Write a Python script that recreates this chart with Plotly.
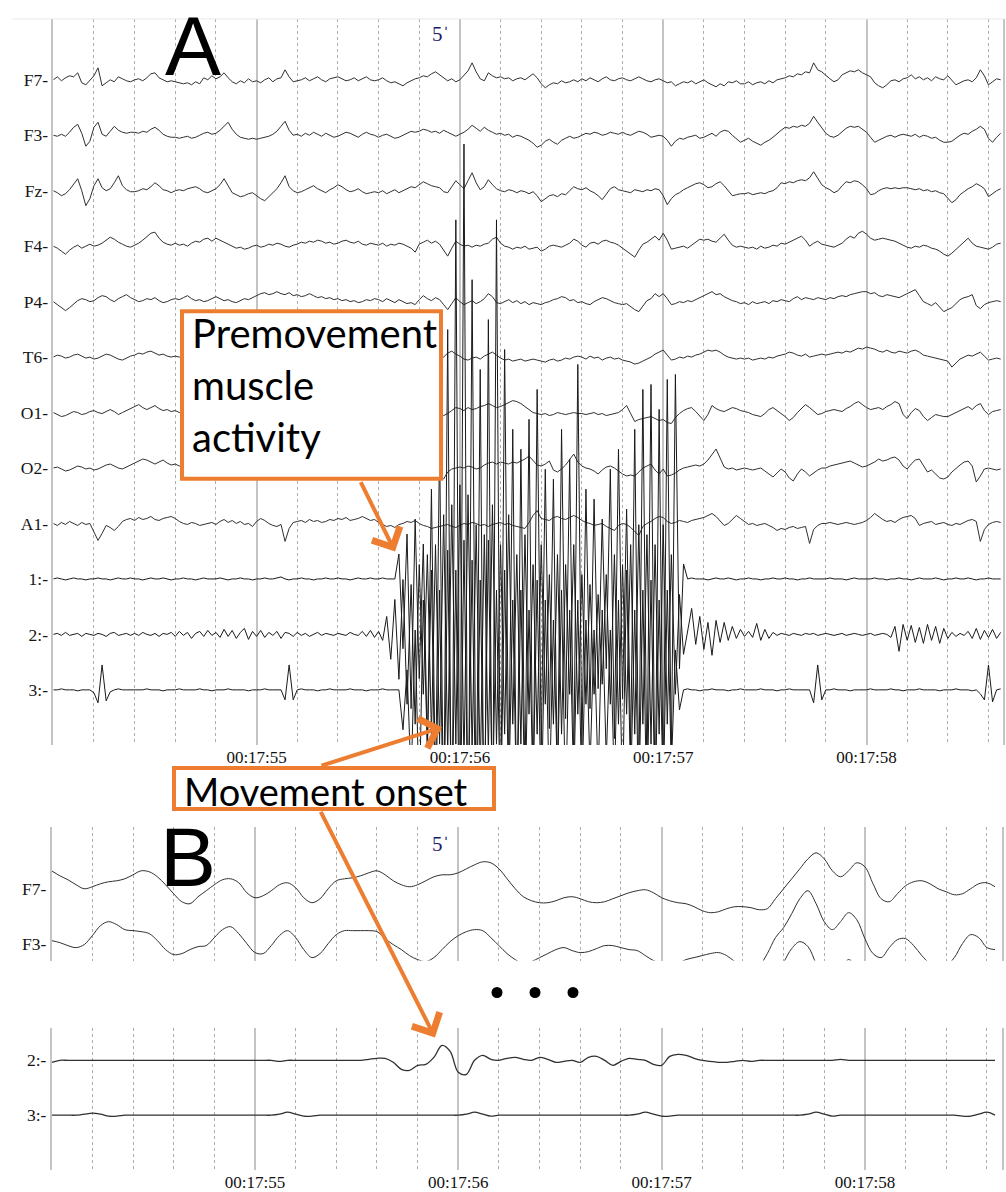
import numpy as np
import plotly.graph_objects as go

W, H = 1006, 1192

# ---------------- DATA ----------------
# time origin 00:17:54 (seconds of the hour); panel A sampled every 0.02 s, panel B every 0.04 s
t_start = 17 * 60 + 54
dt_a = 0.02
dt_b = 0.04
time_tick_labels = ["00:17:55", "00:17:56", "00:17:57", "00:17:58"]

labels_a = ["F7-", "F3-", "Fz-", "F4-", "P4-", "T6-", "O1-", "O2-", "A1-", "1:-", "2:-", "3:-"]

# deflections (display units, up = positive), one row = 0.2 s
F7 = [0,3,-1,2,4,3,7,-3,-5,-1, 4,12,-6,-3,0,-2,3,1,-1,-2, 0,1,-1,2,6,7,2,0,-2,-1,
      -2,-3,-4,-3,-5,-2,-4,2,0,4, 1,3,7,2,-2,-4,-1,-3,1,-2, -1,-3,0,2,-2,1,2,10,3,-2,
      -1,0,2,-1,1,3,0,-2,1,2, 3,1,-1,0,2,-1,1,3,0,-1, 0,2,-1,-3,-2,-4,-6,-3,-1,1,
      2,4,3,6,8,5,2,-1,1,-2, 0,4,9,17,8,1,-1,7,4,2, 3,1,2,-1,1,2,0,3,6,2,
      -4,-8,-5,-3,-4,-1,-3,-2,0,-2, 1,-1,2,0,-2,1,3,0,-1,1, 2,0,-1,1,3,1,-1,-2,0,1,
      -1,-3,-2,-6,-4,-2,-3,-1,-4,-2, 0,-3,-5,-7,-4,-6,-2,-3,-1,-4, -4,-2,-5,-3,-2,-4,-1,-3,0,1,
      2,4,3,6,5,8,7,17,10,8, 4,1,-2,0,5,7,9,8,10,7, 5,3,-3,-6,-8,-5,-1,0,-2,1,
      2,5,1,3,0,2,-1,3,1,0, 4,-1,-5,-3,-1,0,-2,2,10,4, -5,-2,1,0]
F3 = [0,-1,1,-1,3,8,11,2,-11,-6, 8,13,1,-1,4,9,5,3,2,3, 3,2,4,3,6,8,5,1,-1,-2,
      -2,-3,-2,-1,-3,-2,0,2,3,1, 2,5,9,13,6,1,-2,-3,-4,-3, -4,-3,-2,-1,1,4,9,14,5,0,
      1,-1,2,0,3,1,-1,2,0,-2, -1,1,3,2,0,-2,1,3,1,0, -2,0,1,-1,-3,-2,0,2,4,3,
      4,6,5,3,4,2,5,3,1,-1, 1,3,6,10,7,4,8,5,3,1, 2,0,1,-2,0,-1,-3,-5,-8,-12,
      -10,-6,-4,-7,-9,-5,-3,-1,-3,-2, 0,2,1,3,2,0,1,3,2,1, 3,1,0,2,4,3,1,-2,-1,0,
      -1,-5,-11,-6,-3,-4,-2,-1,0,-3, -2,0,2,-1,3,5,4,0,-4,-7, -5,-3,-6,-8,-10,-7,-5,-2,2,5,
      8,7,9,8,10,9,12,19,13,8, 2,-1,-2,0,4,7,9,8,9,6, 3,-2,-7,-5,-3,-1,0,-2,0,1,
      0,-1,1,-2,0,-1,-3,-2,-5,-7, -7,-6,-3,0,2,1,4,6,9,6, -3,-7,-2,2]
Fz = [0,-2,-5,-3,1,6,12,0,-15,-8, 5,12,3,0,2,8,15,5,1,-1, -1,0,2,1,4,8,5,1,0,-2,
      0,1,0,2,3,4,2,-1,-2,0, 2,6,12,5,-2,-4,-6,-5,-3,-2, -5,-8,-10,-6,-2,2,8,15,4,0,
      -2,-1,1,3,5,2,0,-2,1,3, 6,4,1,-1,0,2,-1,-3,-2,-1, -2,0,-3,-1,1,-2,0,2,4,3,
      6,9,7,5,4,3,-1,-2,4,10, 6,2,10,18,8,1,4,11,6,2, 0,-1,1,0,-2,0,-1,-3,-1,-5,
      -11,-8,-5,-4,-6,-3,-4,0,4,2, 1,3,0,-2,-5,-9,-3,2,4,1, 0,-1,-2,1,0,-1,1,0,2,1,
      -5,-14,-8,-4,-2,1,3,5,7,8, 6,3,4,7,9,5,0,-5,-4,-3, -3,-2,-4,-3,-2,-3,-1,0,3,8,
      7,9,8,10,11,10,13,19,12,6, 3,1,-2,0,5,9,8,10,9,6, 2,-4,-3,0,2,3,2,3,2,3,
      3,2,1,2,0,1,-1,0,-2,-3, -8,-12,-9,-4,-1,2,4,7,5,2, -6,-3,0,2]
F4 = [0,-2,-5,-8,-4,-1,1,-2,0,2, 0,1,3,6,9,7,4,2,0,-1, 1,3,6,10,13,14,8,4,2,1,
      3,1,2,0,3,5,4,7,8,5, 8,6,4,2,0,-2,-1,-3,-2,0, 1,-1,0,2,1,3,2,0,-1,1,
      2,4,3,5,4,6,5,3,4,2, 3,5,6,4,3,5,2,1,3,2, 1,3,0,2,1,3,2,0,-2,-6,
      2,4,6,3,5,2,-4,-10,-2,5, 2,0,1,-1,1,0,2,3,7,9, 3,0,-1,-3,-1,-2,0,-3,-2,-1,
      -5,-3,0,1,0,-1,1,3,7,5, 1,-1,3,4,2,5,6,4,3,1, -2,-5,-8,-11,-4,2,4,7,10,6,
      13,6,-3,-2,-1,0,-2,1,4,7, 6,7,5,4,8,12,6,1,-1,0, -1,-2,-1,-3,0,-2,-1,1,0,3,
      2,4,6,8,10,6,0,3,5,2, 1,0,-1,1,3,7,10,8,13,15, 12,8,6,7,8,7,6,5,3,1,
      -1,-2,0,-1,1,0,-2,-3,-5,-8, -10,-7,-3,0,5,8,3,0,-1,-2, -3,-1,2,3]
P4 = [0,-3,-6,-9,-6,-2,1,3,2,0, 1,4,6,5,2,0,3,5,7,4, 2,0,1,3,2,4,1,-1,0,2,
      3,2,4,6,3,1,2,0,1,3, 5,3,1,2,0,-1,1,3,2,4, 6,8,9,7,8,10,8,7,9,6,
      7,5,6,8,6,4,5,3,4,2, 3,1,2,0,1,-1,0,2,1,3, 2,0,3,1,-1,2,0,-2,-1,-3,
      2,6,3,1,4,2,-3,-8,-2,4, 0,-3,-1,1,-2,0,3,8,5,-1, -2,0,2,-1,1,-2,0,-3,-1,-2,
      -3,-1,0,2,3,5,4,1,2,-1, 0,-2,-3,0,2,4,3,1,-1,-2, -3,-2,-5,-8,-10,-4,1,3,8,5,
      8,3,-3,-2,0,-1,1,0,2,4, 6,8,10,7,8,5,3,1,0,-2, -1,-3,0,-2,-1,0,-2,1,0,2,
      1,0,3,5,2,4,3,2,4,3, 2,4,3,5,6,5,7,8,9,10, 10,8,9,6,5,7,6,5,4,6,
      8,10,12,6,0,-2,-4,-1,-6,-10, -8,-6,-2,2,4,5,7,-4,-7,-3, -1,0,1,0]
T6 = [0,2,1,-1,0,2,3,1,-1,0, -2,-1,1,3,2,0,-2,-3,-1,1, 2,4,3,5,6,4,2,3,1,0,
      1,0,2,1,3,2,0,1,-1,0, 2,1,3,0,2,4,3,1,0,2, 1,3,2,0,1,-1,2,3,1,0,
      2,1,-1,0,2,3,1,0,2,1, 0,2,1,3,2,0,-1,1,2,0, 1,-1,0,2,1,0,2,1,-1,0,
      1,0,2,1,3,2,0,4,6,3, 1,-2,-3,-1,0,-2,1,3,5,2, -1,-3,-2,-4,-3,-2,-4,-3,-2,-3,
      -4,-5,-3,-2,-4,-3,-1,-2,0,1, 0,-2,1,-1,0,-3,-1,0,-2,-1, -3,-4,-5,-7,-6,-4,-2,0,3,5,
      7,2,-3,-2,0,-1,1,0,2,3, 5,7,6,7,5,2,0,-1,-2,-1, -2,-1,-3,-2,-1,-2,0,-1,1,2,
      3,5,4,2,1,3,0,1,2,3, 2,3,4,5,4,6,5,7,9,8, 10,9,8,6,5,7,5,4,6,5,
      4,6,7,5,2,1,0,-1,-2,-3, -4,-10,-6,-2,0,2,1,3,5,1, -3,-2,-1,-2]
O1 = [0,-2,-4,-3,-1,1,0,-2,-1,1, 2,0,-1,1,3,1,-2,0,2,4, 6,8,5,3,5,7,4,2,3,1,
      2,0,1,3,2,1,0,2,1,3, 2,1,3,2,0,1,2,3,1,0, 1,2,0,-1,1,2,3,1,0,2,
      3,1,2,0,1,3,2,0,1,2, 1,3,2,1,0,2,1,3,2,0, 1,0,2,3,1,2,0,1,3,2,
      0,-1,1,0,-2,-4,-3,-1,2,5, 4,2,5,3,4,6,7,9,7,5, 6,8,10,12,11,9,6,3,0,-1,
      -2,-1,-3,-2,0,-1,-2,-1,0,-1, -1,-2,-1,0,-2,-1,-3,-2,-1,0, 3,7,-1,-9,-7,-6,-5,-4,-6,-8,
      -7,-10,-11,-5,-1,2,4,5,1,-4, -8,-2,7,4,2,1,3,5,4,2, 1,0,-2,-3,-4,-1,3,5,2,-1,
      -4,-8,-5,0,4,8,5,1,-2,-1, 1,2,3,2,1,4,6,9,11,8, 5,3,4,5,3,6,8,11,9,-2,
      -6,0,4,2,-4,-8,-5,-2,-3,-4, -4,-2,0,2,4,6,3,7,9,2, -2,1,2,3]
O2 = [0,1,-1,-3,-2,0,2,1,-1,0, -2,-1,1,3,4,2,0,-1,1,3, 5,7,9,8,6,4,6,8,5,3,
      4,2,3,1,2,0,1,3,2,4, 3,1,2,4,3,2,0,1,3,2, 1,0,2,3,1,2,4,3,1,2,
      3,2,1,3,2,0,1,2,3,1, 0,2,1,-1,0,2,3,1,0,-1, 0,-2,-1,1,0,-1,1,0,-2,-3,
      -1,0,-2,-4,-6,-9,-11,-4,-1,0, 1,0,2,1,-1,0,3,5,6,4, 6,5,4,6,5,7,9,12,8,3,
      2,4,7,-2,-4,-1,3,8,14,6, 2,0,-1,-3,-6,-2,1,2,0,-3, -6,-8,-7,-8,-4,0,2,4,-2,-6,
      -1,-8,-7,-5,-2,0,1,2,3,2, 4,8,13,19,10,1,-1,0,-2,-1, 0,-1,-2,-1,0,-3,-6,-9,-5,-1,
      -4,-10,-13,-6,-1,-4,-8,-5,-2,0, 0,2,3,4,5,6,7,5,3,1, 2,4,6,9,7,8,10,11,8,2,
      -1,4,8,9,3,-4,-2,-6,-10,-11, -9,-4,0,3,6,7,2,-14,-8,-1, 0,-1,-2,-1]
A1 = [0,-2,1,-1,2,0,-2,1,-1,0, -8,-17,-10,-2,-4,-7,-3,2,4,5, 3,6,4,5,7,4,3,5,6,7,
      5,2,0,-1,1,0,-2,-1,0,1, -1,2,4,1,3,0,2,-1,0,-3, 2,5,3,0,-2,-3,-1,-18,-5,1,
      2,3,1,4,2,3,1,2,4,3, 5,4,6,3,4,5,7,5,3,4, 1,-1,-3,-2,-4,-1,0,2,1,3,
      0,-2,-3,-5,-4,-3,-2,-1,-3,-4, -2,0,-1,1,0,-2,-1,-3,-1,0, 1,-1,0,-2,-3,-4,-5,1,8,13,
      5,4,3,6,7,5,4,6,8,6, 3,1,0,-2,-1,0,-3,-5,-7,-2, 0,-1,-4,-8,-12,-3,0,2,5,7,
      6,2,0,1,3,2,1,3,4,5, 6,8,10,7,2,-2,0,4,8,5, 2,-1,0,-2,-1,0,-2,-4,-7,-5,
      -6,-4,-3,-5,-4,-3,-20,-6,-2,0, 0,1,0,-1,0,1,0,-1,0,1, 3,6,10,7,4,2,3,1,4,6,
      7,8,5,-2,0,1,2,-1,0,1, -1,-2,0,-1,1,3,4,2,-18,-6, -1,1,2,1]
EMG1 = [0,1,0,-1,0,1,0,0,-1,0, 0,1,0,0,-1,0,1,0,0,1, 0,0,-1,0,1,0,0,1,0,-1,
        0,0,1,0,0,-1,0,1,0,0, 0,1,0,-1,0,0,1,0,0,-1, 0,0,1,0,0,1,2,0,-1,0,
        0,1,0,0,-1,0,0,1,0,0, 1,0,0,-1,0,1,0,0,1,0,
        0,1,0,0,0,25,-70,45,-130,60,
        -100,35,-170,90,-220,140,-260,250,-320,360,
        -300,436,-320,300,-260,210,-310,260,-290,360,
        -260,230,-200,150,-260,130,-210,160,-230,190,
        -170,110,-150,100,-210,150,-140,120,-190,215,
        -170,90,-130,80,-110,60,-90,110,-160,130,
        -120,70,-170,150,-210,190,-200,195,-230,170,
        -210,200,-180,205,-90,15,0,1,0,0,
        0,-1,0,1,0,0,1,0,-1,0, 0,1,0,0,-1,0,0,1,0,0, 1,0,0,-1,0,0,1,0,0,0,
        0,1,0,0,0,-1,0,1,0,0, 0,0,1,0,0,-1,0,0,1,0, 0,-1,0,1,0,0,0,1,0,-1,
        0,0,1,0,0,1,0,-1,0,0, 1,0,0,0]
EMG2 = [0,1,-1,2,-1,0,1,-2,1,0, -1,1,0,-2,1,2,-1,0,1,-1, 1,-1,2,0,-1,1,-2,1,0,2,
        -2,3,-1,2,-4,1,3,-2,4,-1, 2,-3,5,-2,4,-4,2,6,-5,3, -2,4,-3,2,-1,3,-4,2,1,-2,
        2,-1,1,-2,0,2,-1,1,0,-1, 1,0,-1,2,0,-1,3,-2,4,-3,
        3,-6,18,-25,35,-45,55,-70,50,-90,
        70,-60,80,-100,90,-110,120,-120,130,-110,
        150,-130,140,-120,110,-140,100,-120,130,-110,
        90,-100,120,-90,80,-110,100,-80,70,-100,
        90,-70,60,-90,80,-100,70,-60,90,-80,
        60,-70,50,-60,40,-50,60,-70,80,-90,
        70,-80,90,-100,110,-90,100,-110,90,-100,
        110,-90,80,-60,40,-20,5,26,-10,18,
        -15,12,-21,14,-8,12,-6,8,-4,5, -2,3,-3,11,-6,5,-4,2,-1,1,
        0,-1,1,0,-1,1,0,1,-1,0, 1,0,-1,0,1,-1,0,1,0,-1,
        0,1,-1,0,1,0,-3,8,-17,10, -6,9,-8,7,-9,10,-6,8,-9,6,
        -4,2,-2,1,-1,3,-4,6,-5,4, -3,5,-4,2]
EMG3 = [0,0,1,0,0,0,-1,0,0,0, -3,-13,25,-11,-2,0,1,0,0,0, 0,0,0,1,0,0,0,-1,0,0,
        0,1,0,0,0,0,1,0,0,-1, 0,0,0,1,0,0,0,0,-1,0, 0,0,1,0,0,0,0,-10,25,-10,
        0,1,0,0,0,-1,0,0,1,0, 0,0,0,1,0,0,0,-1,0,0,
        0,1,0,0,0,0,-40,20,-90,60,
        -120,90,-60,120,-140,100,-160,140,-150,120,
        -170,150,-140,130,-160,110,-130,150,-120,100,
        -140,120,-110,90,-130,100,-120,80,-100,110,
        -130,90,-110,70,-90,100,-120,80,-100,90,
        -110,70,-80,60,-90,80,-70,60,-100,90,
        -110,120,-100,80,-120,100,-130,110,-120,90,
        -110,100,-80,40,-20,0,1,0,0,-1,
        0,0,1,0,0,0,-1,0,0,1, 0,0,0,0,1,0,0,0,-1,0,
        0,1,0,0,0,0,0,-13,25,-10, 0,0,1,0,0,0,-1,0,0,0,
        0,1,0,0,0,0,1,0,0,-1, 0,0,0,1,0,0,0,0,-1,0,
        0,0,1,0,0,0,-1,0,-4,-10, 25,-12,0,1]

series_a = [F7, F3, Fz, F4, P4, T6, O1, O2, A1, EMG1, EMG2, EMG3]

# panel B (low-pass view), one row = 0.2 s
labels_b_top = ["F7-", "F3-"]
labels_b_bot = ["2:-", "3:-"]
B_F7 = [18,13,9,4,0, 2,5,7,8,10, 14,18,17,12,4, -5,-13,-15,-8,-2, 4,9,10,6,-4,
        -9,-7,-2,4,6, 1,-9,-14,-10,0, 8,10,11,13,16, 18,14,8,4,2, 4,8,12,14,14,
        16,20,24,27,26, 20,10,0,-8,-12, -14,-14,-12,-9,-8, -10,-13,-14,-13,-10,
        -7,-4,-2,-1,-4, -9,-12,-14,-15,-18, -22,-24,-23,-20,-18, -18,-19,-21,-20,-10,
        0,10,20,30,36, 30,18,12,18,26, 22,5,-10,-13,-5, 3,7,8,5,0,
        -3,-6,-5,0,5, 6,2]
B_F3 = [3,1,-2,-4,-1, 8,18,22,19,14, 13,12,10,3,-6, -11,-10,-6,-3,-2, 6,14,17,10,0,
        -9,-10,-2,8,13, 6,-6,-14,-10,0, 9,13,13,13,13, 12,5,-1,-6,-12, -16,-18,-14,-6,2,
        8,12,14,13,6, -2,-10,-16,-20,-18, -14,-10,-6,-4,-7, -9,-8,-5,-2,-2,
        -4,-6,-7,-12,-17, -20,-22,-20,-16,-14, -12,-10,-9,-12,-18, -22,-24,-22,-10,6,
        16,30,45,53,40, 22,14,22,31,24, 5,-10,-14,-4,4, 5,-2,-12,-20,-24,
        -22,-14,0,9,6, -4,-6]
B_Fz = [5,2,-3,-5,0, 10,18,20,15,8, 6,4,2,-3,-8, -10,-8,-4,0,2, 8,14,15,8,-2,
        -8,-6,0,8,12, 4,-6,-12,-8,2, 10,12,14,12,10, 6,0,-4,-8,-12, -14,-12,-6,2,8,
        12,16,18,14,6, -4,-12,-18,-20,-16, -10,-6,-2,0,-4, -6,-4,0,4,2,
        -2,-6,-10,-14,-18, -20,-18,-14,-10,-8, -6,-8,-12,-16,-20, -22,-20,-10,6,20,
        36,50,57,52,35, 20,18,28,39,30, 10,-6,-12,-4,4, 6,0,-10,-16,-18,
        -14,-4,10,20,16, 6,-2]
B_EMG2 = [-2,0,0,0,0, 0,0,0,0,0, 0,0,0,0,0, 0,0,0,0,0, 0,0,0,0,0,
          0,0,0,-1,0, 0,0,0,0,0, 0,0,0,0,1, 2,2,-2,-9,-10, -5,-4,3,15,9,
          -12,-14,0,5,1, 0,2,3,1,0, 3,1,-2,-1,0, -2,3,4,0,-5,
          -1,2,1,0,-4, -5,4,6,5,2, 0,-1,-2,-2,-1, 0,-1,0,0,0,
          0,0,0,0,0, 0,0,1,0,0, 0,0,0,0,0, 0,0,0,0,0,
          0,0,0,0,0, 0,0]
B_EMG3 = [0,0,0,0,1, 2,1,-1,-1,0, 0,0,0,0,0, 0,0,0,0,0, 0,0,0,0,0,
          0,0,0,1,3, 1,-1,-1,0,0, 0,0,0,0,0, 0,0,0,0,0, 0,0,0,0,0,
          0,1,3,1,-1, 0,0,0,0,0, 0,0,0,0,0, 0,0,0,0,0,
          0,0,1,3,1, -1,-1,0,0,0, 0,0,0,0,0, 0,0,0,0,0,
          0,0,0,1,3, 1,-1,0,0,0, 0,0,0,0,0, 0,0,0,0,0,
          0,0,-1,-1,1, 3,0]

# ---------------- LAYOUT GEOMETRY (pixels) ----------------
px_per_s = 203.3
A_left, A_right, A_top, A_bot = 53.3, 1003.0, 19.0, 747.0
B_left, B_right = 51.7, 1001.7
B1_top, B1_bot = 829.0, 963.0
B2_top, B2_bot = 1031.0, 1173.0
A_first, A_step = 80.0, 55.6
B1_first, B_step = 891.0, 55.0
B2_first = 1063.0

def px_x(p):
    return p / W

def px_y(p):
    return 1 - p / H

trace_color = "#303030"
emg_color = "#1a1a1a"

fig = go.Figure()

for k, vals in enumerate(series_a):
    t = t_start + dt_a * np.arange(len(vals))
    base = -(A_first + k * A_step)
    fig.add_trace(go.Scatter(
        x=t, y=base + np.array(vals, dtype=float), mode="lines",
        line=dict(color=emg_color if k >= 9 else trace_color, width=1),
        xaxis="x", yaxis="y", hoverinfo="skip", showlegend=False))

for k, vals in enumerate([B_F7, B_F3, B_Fz]):
    t = t_start + dt_b * np.arange(len(vals))
    base = -(B1_first + k * B_step)
    fig.add_trace(go.Scatter(
        x=t, y=base + np.array(vals, dtype=float), mode="lines",
        line=dict(color=trace_color, width=1, shape="spline", smoothing=1),
        xaxis="x2", yaxis="y2", hoverinfo="skip", showlegend=False))

for k, vals in enumerate([B_EMG2, B_EMG3]):
    t = t_start + dt_b * np.arange(len(vals))
    base = -(B2_first + k * B_step)
    fig.add_trace(go.Scatter(
        x=t, y=base + np.array(vals, dtype=float), mode="lines",
        line=dict(color=trace_color, width=1.3, shape="spline", smoothing=1),
        xaxis="x3", yaxis="y3", hoverinfo="skip", showlegend=False))

major_vals = [t_start + k for k in range(5)]
major_text = [""] + time_tick_labels
minor_vals = [t_start + 0.2 * j for j in range(1, 24) if j % 5 != 0]

serif = "Liberation Serif"

def xaxis(left, right, anchor, labels):
    return dict(
        domain=[px_x(left), px_x(right)],
        range=[t_start, t_start + (right - left) / px_per_s],
        anchor=anchor, tickmode="array", tickvals=major_vals, ticktext=major_text,
        showticklabels=labels, ticks="", showgrid=True, gridcolor="#c4c4c4", gridwidth=1.6,
        minor=dict(tickmode="array", tickvals=minor_vals, showgrid=True,
                   gridcolor="#adadad", gridwidth=1, griddash="3px,3px", ticks=""),
        zeroline=False, showline=False,
        tickfont=dict(family=serif, size=17, color="#111111"))

def yaxis(top, bot, anchor, vals, text):
    return dict(
        domain=[px_y(bot), px_y(top)], range=[-bot, -top], anchor=anchor,
        tickmode="array", tickvals=vals, ticktext=text, ticks="",
        showgrid=False, zeroline=False, showline=True, mirror=True,
        linecolor="#c4c4c4", linewidth=1.6, ticklabelstandoff=0,
        tickfont=dict(family=serif, size=17.5, color="#151515"))

fig.update_layout(
    width=W, height=H, margin=dict(l=0, r=0, t=0, b=0),
    paper_bgcolor="white", plot_bgcolor="white",
    xaxis=xaxis(A_left, A_right, "y", True),
    yaxis=yaxis(A_top, A_bot, "x", [-(A_first + k * A_step) for k in range(12)], labels_a),
    xaxis2=xaxis(B_left, B_right, "y2", False),
    yaxis2=yaxis(B1_top, B1_bot, "x2", [-(B1_first + k * B_step) for k in range(2)], labels_b_top),
    xaxis3=xaxis(B_left, B_right, "y3", True),
    yaxis3=yaxis(B2_top, B2_bot, "x3", [-(B2_first + k * B_step) for k in range(2)], labels_b_bot),
)

orange = "#ED7D31"
box_font = dict(family="Lato", size=40, color="black")
ann = []
# arrows (tip, tail) in pixels
for tip, tail in [((395, 553), (360, 482)), ((442, 729), (320, 768)), ((435, 1040), (320, 813))]:
    ann.append(dict(x=px_x(tip[0]), y=px_y(tip[1]), xref="paper", yref="paper", text="",
                    showarrow=True, arrowhead=4, arrowsize=1.5, arrowwidth=4, arrowcolor=orange,
                    ax=tail[0] - tip[0], ay=tail[1] - tip[1]))
ann.append(dict(x=px_x(190), y=px_y(386), xref="paper", yref="paper",
                text="Premovement<br>muscle<br>activity", showarrow=False,
                xanchor="left", yanchor="middle", align="left", font=box_font))
ann.append(dict(x=px_x(182), y=px_y(793), xref="paper", yref="paper",
                text="Movement onset", showarrow=False,
                xanchor="left", yanchor="middle", align="left",
                font=dict(family="Lato", size=38, color="black")))
ann.append(dict(x=px_x(193), y=1, xref="paper", yref="paper", text="A",
                showarrow=False, xanchor="center", yanchor="top", yshift=3,
                font=dict(family="Liberation Sans", size=84, color="black")))
ann.append(dict(x=px_x(188), y=px_y(859), xref="paper", yref="paper", text="B",
                showarrow=False, xanchor="center", yanchor="middle",
                font=dict(family="Liberation Sans", size=84, color="black")))
for yc in (34, 846):
    ann.append(dict(x=px_x(441), y=px_y(yc), xref="paper", yref="paper", text="5ˈ",
                    showarrow=False, xanchor="center", yanchor="middle",
                    font=dict(family=serif, size=21, color="#1c1c6a")))
fig.update_layout(annotations=ann)

shapes = [dict(type="line", xref="paper", yref="paper", x0=px_x(12), x1=1,
               y0=px_y(19), y1=px_y(19), line=dict(color="#e8e8e8", width=1))]
# orange callout boxes (white fill, drawn above traces)
for x0, y0, x1, y1 in [(182, 312, 441, 480), (174, 770, 494, 811)]:
    shapes.append(dict(type="rect", xref="paper", yref="paper", layer="above",
                       x0=px_x(x0), x1=px_x(x1), y0=px_y(y1), y1=px_y(y0),
                       fillcolor="white", line=dict(color=orange, width=4)))
for cx in (497, 535, 573):
    shapes.append(dict(type="circle", xref="paper", yref="paper",
                       x0=px_x(cx - 5.5), x1=px_x(cx + 5.5), y0=px_y(995 + 5.5), y1=px_y(995 - 5.5),
                       fillcolor="black", line=dict(width=0)))
fig.update_layout(shapes=shapes)

fig.write_html("out.html")
